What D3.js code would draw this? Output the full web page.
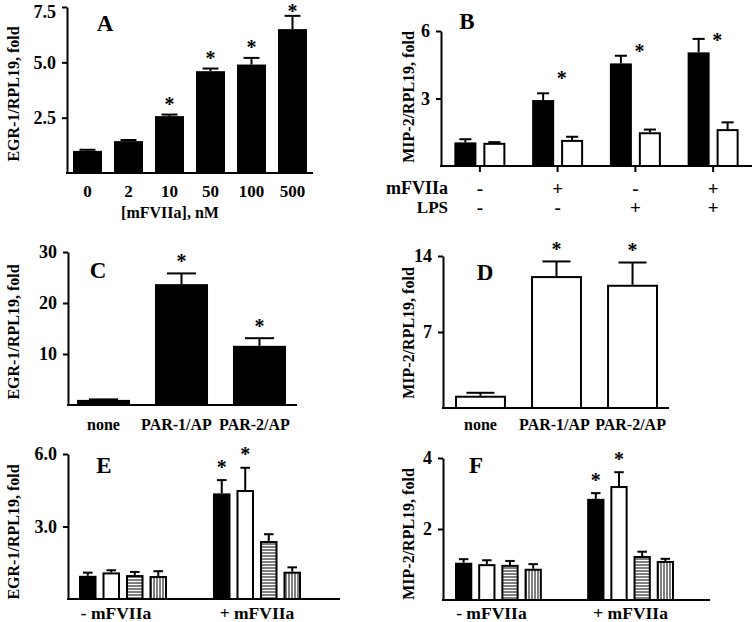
<!DOCTYPE html>
<html><head><meta charset="utf-8">
<script src="https://cdn.jsdelivr.net/npm/d3@7"></script>
<style>
body{margin:0;background:#fff}
svg{display:block}
text{font-family:"Liberation Serif","Times New Roman",serif;font-weight:bold;fill:#000}
</style>
</head><body><svg id="c" width="755" height="622"></svg>
<script>
// ---------- Panel A ----------
const catA = ["0","2","10","50","100","500"];
const valA = [1.0,1.44,2.57,4.6,4.9,6.5];
const errA = [0.05,0.05,0.07,0.12,0.3,0.6];
const sigA = [0,0,1,1,1,1];
const ticksA = [2.5,5.0,7.5];
// ---------- Panel B ----------
const grpB = ["g1","g2","g3","g4"];
const mfB = ["-","+","-","+"];
const lpsB = ["-","-","+","+"];
const blackB = [1.05,2.93,4.56,5.05];
const blackErrB = [0.14,0.3,0.34,0.6];
const whiteB = [1.03,1.16,1.5,1.64];
const whiteErrB = [0.03,0.14,0.12,0.3];
const starLevelB = [null,4.0,5.2,5.7];
const ticksB = [3,6];
// ---------- Panels C, D ----------
const catCD = ["none","PAR-1/AP","PAR-2/AP"];
const valC = [1.0,23.7,11.6];
const errC = [0.1,2.1,1.5];
const sigC = [0,1,1];
const ticksC = [10,20,30];
const valD = [1.13,12.15,11.35];
const errD = [0.27,1.35,2.05];
const sigD = [0,1,1];
const ticksD = [7,14];
// ---------- Panels E, F ----------
const grpEF = ["- mFVIIa","+ mFVIIa"];
const seriesEF = ["solid","open","hstripe","vstripe"];
const valE = [[0.96,1.1,0.99,0.95],[4.37,4.51,2.4,1.13]];
const errE = [[0.13,0.09,0.13,0.2],[0.55,0.92,0.28,0.18]];
const sigE = [[0,0,0,0],[1,1,0,0]];
const ticksE = [3.0,6.0];
const valF = [[1.05,1.01,0.99,0.88],[2.85,3.21,1.24,1.1]];
const errF = [[0.1,0.11,0.11,0.13],[0.16,0.39,0.12,0.06]];
const sigF = [[0,0,0,0],[1,1,0,0]];
const ticksF = [2,4];

const svg = d3.select("#c");
const defs = svg.append("defs");
const ph = defs.append("pattern").attr("id","hstripe").attr("patternUnits","userSpaceOnUse").attr("width",4).attr("height",3);
ph.append("rect").attr("width",4).attr("height",3).attr("fill","#fff");
ph.append("line").attr("x1",0).attr("x2",4).attr("y1",1).attr("y2",1).attr("stroke","#000").attr("stroke-width",1);
const pv = defs.append("pattern").attr("id","vstripe").attr("patternUnits","userSpaceOnUse").attr("width",3).attr("height",4);
pv.append("rect").attr("width",3).attr("height",4).attr("fill","#fff");
pv.append("line").attr("y1",0).attr("y2",4).attr("x1",1).attr("x2",1).attr("stroke","#000").attr("stroke-width",1);

const fillFor = {solid:"#000", open:"#fff", hstripe:"url(#hstripe)", vstripe:"url(#vstripe)"};

function yAxis(g, y, ticks, fmt, x0){
  const ax = g.append("g").attr("transform",`translate(${x0},0)`)
    .call(d3.axisLeft(y).tickValues(ticks).tickFormat(fmt).tickSize(5).tickSizeOuter(0).tickPadding(6));
  ax.select(".domain").attr("stroke","#000").attr("stroke-width",2);
  ax.selectAll(".tick line").attr("stroke","#000").attr("stroke-width",2);
  ax.selectAll(".tick text").attr("font-size",18).attr("font-family","Liberation Serif").attr("font-weight","bold")
    .each(function(){ // keep the top label inside the picture
      const t = d3.select(this), p = this.parentNode.getAttribute("transform");
      const ty = +p.match(/,\s*([-\d.]+)\)/)[1];
      if (ty < 12) t.attr("dy", (0.32 + (12-ty)/18) + "em");
    });
}
function xLine(g, y, x0, x1){
  g.append("line").attr("x1",x0-1).attr("x2",x1).attr("y1",y(0)).attr("y2",y(0))
    .attr("stroke","#000").attr("stroke-width",2);
}
function bar(g, x, w, y, v, e, fill){
  if (fill==="#000"){
    g.append("rect").attr("x",x).attr("y",y(v)).attr("width",w).attr("height",y(0)-y(v)).attr("fill",fill);
  } else {
    g.append("rect").attr("x",x+1).attr("y",y(v)+1).attr("width",w-2).attr("height",y(0)-y(v)-1)
      .attr("fill",fill).attr("stroke","#000").attr("stroke-width",2);
  }
  const cx = x + w/2, cw = Math.max(8, w*0.55);
  g.append("line").attr("x1",cx).attr("x2",cx).attr("y1",y(v)).attr("y2",y(v+e)).attr("stroke","#000").attr("stroke-width",2);
  g.append("line").attr("x1",cx-cw/2).attr("x2",cx+cw/2).attr("y1",y(v+e)).attr("y2",y(v+e)).attr("stroke","#000").attr("stroke-width",2);
}
function star(g, cx, cy){
  const fs = 20;
  cy = Math.max(cy, 9);
  g.append("text").attr("x",cx).attr("y",cy+0.47*fs).attr("text-anchor","middle").attr("font-size",fs).text("*");
}
function label(g, x, y, txt, fs, anchor){
  g.append("text").attr("x",x).attr("y",y).attr("dy","0.35em").attr("text-anchor",anchor||"middle").attr("font-size",fs).text(txt);
}
function yTitle(g, x, y, txt){
  g.append("text").attr("transform",`translate(${x},${y}) rotate(-90)`).attr("dy","0.35em")
    .attr("text-anchor","middle").attr("font-size",16).text(txt);
}
function letter(g, x, y, txt){
  g.append("text").attr("x",x).attr("y",y).attr("dy","0.36em").attr("text-anchor","middle").attr("font-size",23).text(txt);
}

// ---------- A ----------
{
  const g = svg.append("g");
  const y = d3.scaleLinear().domain([0,7.5]).range([173,7]);
  const x = d3.scaleBand().domain(catA).range([73,307]).paddingInner(0.293).paddingOuter(0);
  catA.forEach((c,i)=>{
    bar(g, x(c), x.bandwidth(), y, valA[i], errA[i], "#000");
    if (sigA[i]) star(g, x(c)+x.bandwidth()/2, y(valA[i]+errA[i])-13);
    label(g, x(c)+x.bandwidth()/2, 191, c, 17);
  });
  yAxis(g, y, ticksA, d3.format(".1f"), 67);
  xLine(g, y, 67, 313);
  label(g, 170, 212, "[mFVIIa], nM", 16);
  yTitle(g, 13, 94, "EGR-1/RPL19, fold");
  letter(g, 105, 23, "A");
}
// ---------- B ----------
{
  const g = svg.append("g");
  const y = d3.scaleLinear().domain([0,6]).range([166,31]);
  const x = d3.scaleBand().domain(grpB).range([441,752]).padding(0);
  const sub = d3.scaleBand().domain(["black","white"]).range([-25.5,25.5]).paddingInner(0.24);
  grpB.forEach((gname,i)=>{
    const c = x(gname)+x.bandwidth()/2;
    bar(g, c+sub("black"), sub.bandwidth(), y, blackB[i], blackErrB[i], "#000");
    bar(g, c+sub("white"), sub.bandwidth(), y, whiteB[i], whiteErrB[i], "#fff");
    if (starLevelB[i]!==null) star(g, c+4, y(starLevelB[i]));
    g.append("line").attr("x1",c).attr("x2",c).attr("y1",y(0)).attr("y2",y(0)+6).attr("stroke","#000").attr("stroke-width",2);
    label(g, c, 188, mfB[i], 19);
    label(g, c, 207, lpsB[i], 19);
  });
  yAxis(g, y, ticksB, d3.format("d"), 441);
  xLine(g, y, 441, 752);
  label(g, 448, 188, "mFVIIa", 18, "end");
  label(g, 448, 207, "LPS", 17, "end");
  yTitle(g, 408, 97, "MIP-2/RPL19, fold");
  letter(g, 467, 21, "B");
}
// ---------- C ----------
{
  const g = svg.append("g");
  const y = d3.scaleLinear().domain([0,30]).range([405,252]);
  const x = d3.scaleBand().domain(catCD).range([77,286]).paddingInner(0.32).paddingOuter(0);
  catCD.forEach((c,i)=>{
    bar(g, x(c), x.bandwidth(), y, valC[i], errC[i], "#000");
    if (sigC[i]) star(g, x(c)+x.bandwidth()/2, y(valC[i]+errC[i])-15);
    label(g, x(c)+x.bandwidth()/2 - (i?5:0), 424, c, 16);
  });
  yAxis(g, y, ticksC, d3.format("d"), 68);
  xLine(g, y, 68, 297);
  yTitle(g, 13, 332, "EGR-1/RPL19, fold");
  letter(g, 98, 270, "C");
}
// ---------- D ----------
{
  const g = svg.append("g");
  const y = d3.scaleLinear().domain([0,14]).range([408,256]);
  const x = d3.scaleBand().domain(catCD).range([455,658]).paddingInner(0.33).paddingOuter(0);
  catCD.forEach((c,i)=>{
    bar(g, x(c), x.bandwidth(), y, valD[i], errD[i], "#fff");
    if (sigD[i]) star(g, x(c)+x.bandwidth()/2, y(valD[i]+errD[i])-15);
    label(g, x(c)+x.bandwidth()/2 - (i?2:0), 424, c, 16);
  });
  yAxis(g, y, ticksD, d3.format("d"), 443);
  xLine(g, y, 443, 669);
  yTitle(g, 408, 333, "MIP-2/RPL19, fold");
  letter(g, 485, 272, "D");
}
// ---------- E / F ----------
function groupedPanel(vals, errs, sigs, ticks, fmt, yDom, yRange, xRange, axisX, axisEnd, title, titleY, let, letXY, labY, titleX){
  const g = svg.append("g");
  const y = d3.scaleLinear().domain(yDom).range(yRange);
  const x = d3.scaleBand().domain(grpEF).range(xRange).paddingInner(0.343).paddingOuter(0);
  const sub = d3.scaleBand().domain(seriesEF).range([0,x.bandwidth()]).paddingInner(0.255).paddingOuter(0);
  grpEF.forEach((gn,gi)=>{
    seriesEF.forEach((s,si)=>{
      const bx = x(gn)+sub(s);
      bar(g, bx, sub.bandwidth(), y, vals[gi][si], errs[gi][si], fillFor[s]);
      if (sigs[gi][si]) star(g, bx+sub.bandwidth()/2, y(vals[gi][si]+errs[gi][si])-16);
    });
    label(g, x(gn)+x.bandwidth()/2 - (gi?0:7), labY, gn, 17.5);
  });
  yAxis(g, y, ticks, fmt, axisX);
  xLine(g, y, axisX, axisEnd);
  yTitle(g, titleX, titleY, title);
  letter(g, letXY[0], letXY[1], let);
}
groupedPanel(valE, errE, sigE, ticksE, d3.format(".1f"), [0,6], [599,454], [79,301], 68, 340, "EGR-1/RPL19, fold", 532, "E", [104,465], 613, 13);
groupedPanel(valF, errF, sigF, ticksF, d3.format("d"), [0,4], [600,458], [455,674], 443, 710, "MIP-2/RPL19, fold", 534, "F", [476,465], 613, 408);
</script>
</body></html>
